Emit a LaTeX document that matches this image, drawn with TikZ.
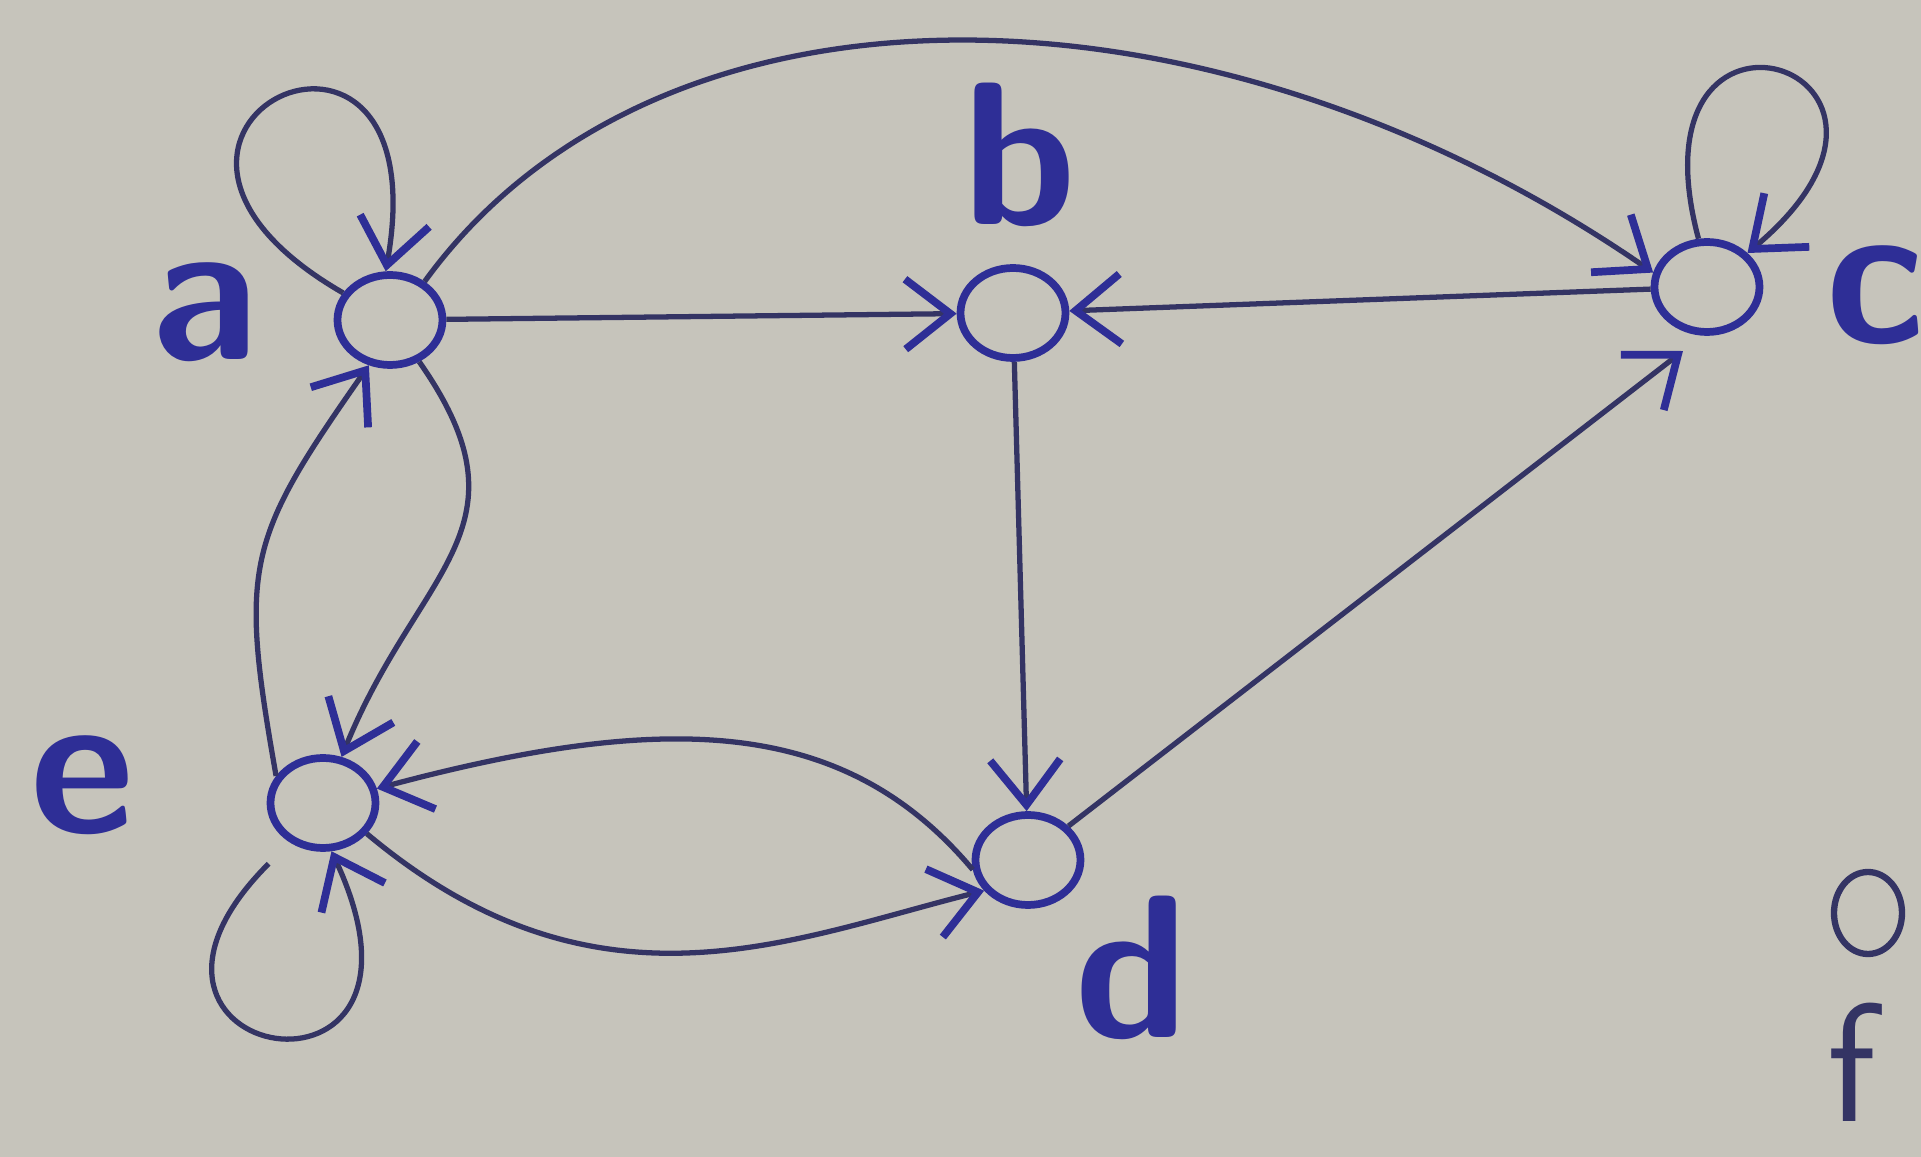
\documentclass[tikz,border=0pt]{standalone}
\usepackage{amsmath, amssymb}
\usepackage{tikz}
\usetikzlibrary{arrows.meta, shapes.geometric}

\definecolor{papir}{RGB}{198,196,187}
\definecolor{tinta}{RGB}{46,46,150}
\definecolor{vonal}{RGB}{52,52,100}

\begin{document}
\begin{tikzpicture}[scale=1,
		csucs/.style={draw=tinta, line width=2.2pt, ellipse, minimum width=1.05cm, minimum height=0.9cm, inner sep=0pt},
		betu/.style={text=tinta, font=\fontsize{58}{60}\selectfont\sffamily\bfseries, inner sep=0pt},
		el/.style={draw=vonal, line width=1.5pt, -{Straight Barb[length=4.5mm,width=7mm,line width=2.2pt,color=tinta]}}
	]
				% háttér
				\fill[papir] (0,0) rectangle (19.21,11.57);
				\useasboundingbox (0,0) rectangle (19.21,11.57);
				
				% csúcsok
				\node[csucs] (a) at (3.90,8.37) {};
				\node[csucs] (b) at (10.13,8.44) {};
				\node[csucs] (c) at (17.07,8.70) {};
				\node[csucs] (d) at (10.28,2.97) {};
				\node[csucs] (e) at (3.23,3.54) {};
				\node[csucs, draw=vonal, line width=1.8pt, minimum width=0.68cm, minimum height=0.82cm] (f) at (18.68,2.44) {};
				
				% feliratok
				\node[betu] (la) at (2.05,8.45) {a};
				\node[betu] (lb) at (10.20,10.02) {b};
				\node[betu] (lc) at (18.75,8.62) {c};
				\node[betu] (ld) at (11.32,1.89) {d};
				\node[betu] (le) at (0.83,3.72) {e};
				\node[betu, text=vonal, font=\fontsize{48}{52}\selectfont\sffamily] (lf) at (18.52,0.95) {f};
				
				% élek
				\draw[el] (a) -- (b);
				\draw[el] (c) -- (b);
				\draw[el] (b) -- (d);
				\draw[el, shorten >=2.5mm] (d.40) -- (c.265);
				\draw[el] (a.48) .. controls (6.6,12.0) and (12.1,11.9) .. (c.165);
				\draw[el] (a) to[out=-55, in=68, looseness=1.3] (e);
				\draw[el] (e.150) to[out=100, in=235, looseness=1.3] (a.245);
				\draw[el] (d.190) .. controls +(130:2.0) and +(15:3.0) .. (e.15);
				\draw[el] (e.-35) .. controls +(-40:3.0) and +(194:2.0) .. (d.215);
				
				% hurkok
				\draw[el] (a.150) .. controls +(150:3.3) and +(80:3.3) .. (a.95);
				\draw[el] (c.100) .. controls +(105:2.9) and +(40:2.9) .. (c.40);
				\draw[el, shorten <=3mm] (e.230) .. controls +(225:3.1) and +(-65:3.1) .. (e.-80);
				
			\end{tikzpicture}
\end{document}
